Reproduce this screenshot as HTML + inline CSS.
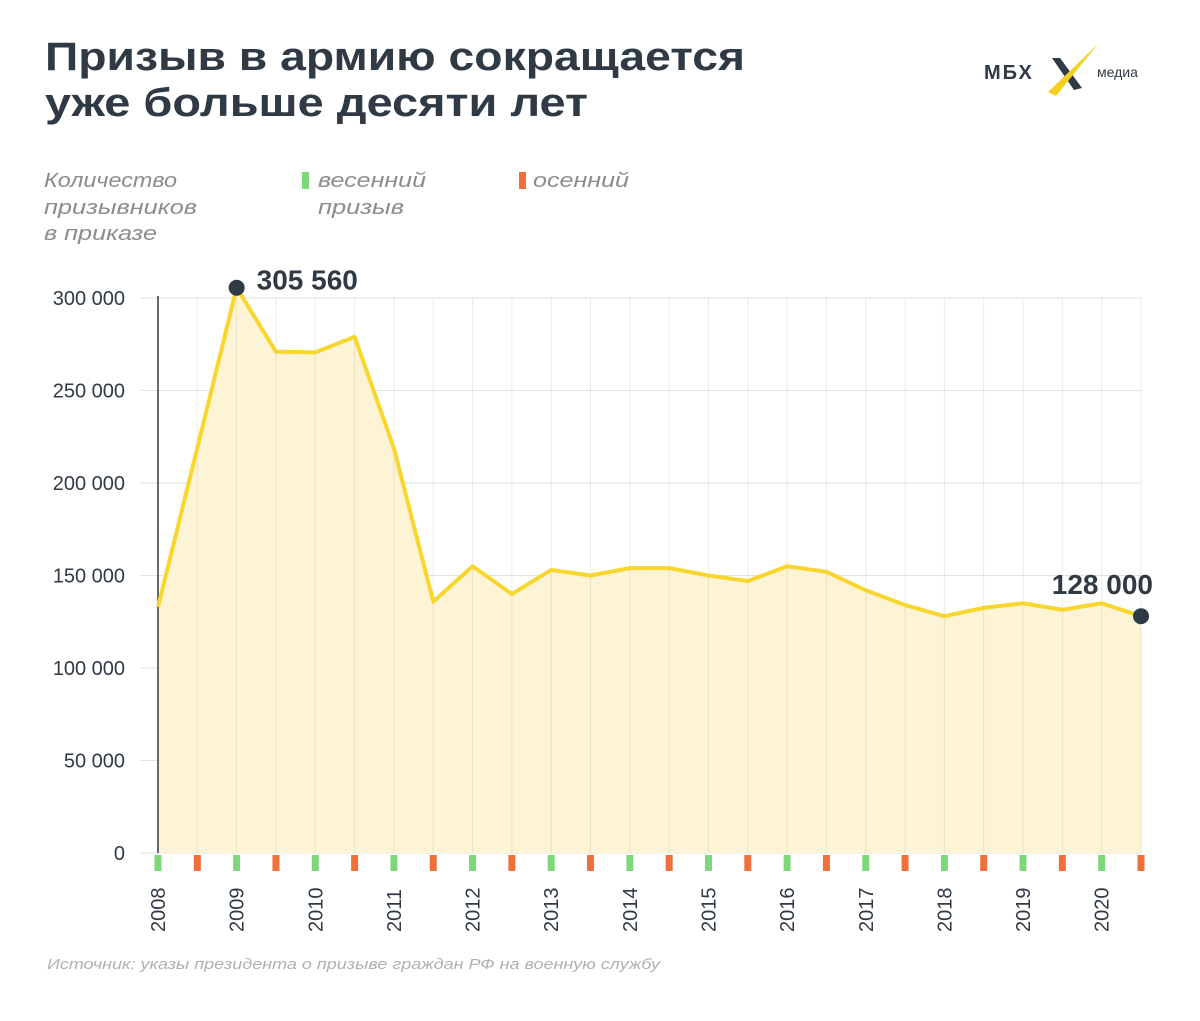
<!DOCTYPE html>
<html><head><meta charset="utf-8"><style>
body{margin:0;background:#fff;width:1200px;height:1021px;overflow:hidden;font-family:"Liberation Sans",sans-serif}
</style></head><body>
<svg width="1200" height="1021" style="position:absolute;left:0;top:0">
<text x="45" y="70" font-size="40" font-weight="bold" fill="#2f3a45" textLength="700" lengthAdjust="spacingAndGlyphs">Призыв в армию сокращается</text>
<text x="45" y="116" font-size="40" font-weight="bold" fill="#2f3a45" textLength="543" lengthAdjust="spacingAndGlyphs">уже больше десяти лет</text>
<g>
<text x="984" y="79" font-size="20" font-weight="bold" fill="#2f3a45" letter-spacing="2">МБХ</text>
<polygon points="1052,58 1060,58 1082,88 1074,90" fill="#2f3a45"/>
<polygon points="1048,92 1098,44 1056,96" fill="#f5d020"/>
<text x="1097" y="77" font-size="14" fill="#2f3a45">медиа</text>
</g>
<g font-style="italic" font-size="20" fill="#8c8c8c">
<text x="44" y="187" textLength="133" lengthAdjust="spacingAndGlyphs">Количество</text>
<text x="44" y="214" textLength="153" lengthAdjust="spacingAndGlyphs">призывников</text>
<text x="44" y="240" textLength="113" lengthAdjust="spacingAndGlyphs">в приказе</text>
<g><rect x="302" y="172" width="7" height="17" fill="#7ed87a"/><text x="318" y="187" textLength="108" lengthAdjust="spacingAndGlyphs">весенний</text><text x="318" y="214" textLength="86" lengthAdjust="spacingAndGlyphs">призыв</text></g>
<g><rect x="519" y="172" width="7" height="17" fill="#f0703a"/><text x="533" y="187" textLength="96" lengthAdjust="spacingAndGlyphs">осенний</text></g>
</g>
<g id="plot"></g>
<text x="47" y="969" font-size="15" font-style="italic" fill="#b0b0b0" textLength="613" lengthAdjust="spacingAndGlyphs">Источник: указы президента о призыве граждан РФ на военную службу</text>
</svg>
<script>
const years=["2008","2009","2010","2011","2012","2013","2014","2015","2016","2017","2018","2019","2020"];
const values=[133000,219000,305560,271000,270600,279000,218800,135850,155000,140000,153000,150000,154000,154000,150000,147000,155000,152000,142000,134000,128000,132500,135000,131500,135000,128000];
const yTicks=[0,50000,100000,150000,200000,250000,300000];
const tickLabels=["0","50 000","100 000","150 000","200 000","250 000","300 000"];
const ns="http://www.w3.org/2000/svg",g=document.getElementById("plot");
const x0=158,x1=1141,yb=853,yt=298;
const X=i=>x0+i*(x1-x0)/(values.length-1);
const Y=v=>yb-v/300000*(yb-yt);
function mk(t,a,p){const e=document.createElementNS(ns,t);for(const k in a)e.setAttribute(k,a[k]);(p||g).appendChild(e);return e;}
yTicks.forEach((v,i)=>{
 const l=mk("line",{x1:140,x2:1141,y1:Y(v),y2:Y(v),stroke:"#e2e2e2"});
 
 
 const t=mk("text",{x:125,y:Y(v)+7,"text-anchor":"end","font-size":20,fill:"#2f3a45"});
 t.textContent=tickLabels[i];
 
 
});
let d="M"+X(0)+","+yb;values.forEach((v,i)=>d+=" L"+X(i)+","+Y(v));d+=" L"+X(values.length-1)+","+yb+"Z";
const area=mk("path",{d:d,fill:"#fdf4d6"});


values.forEach((v,i)=>{
 const l=mk("line",{x1:X(i),x2:X(i),y1:298,y2:yb,stroke:"rgba(0,0,0,0.08)"});
 
 
 const r=mk("rect",{x:X(i)-3.5,y:855,width:7,height:16,fill:i%2?"#f0703a":"#7ed87a"});
 
 
});
const ax=mk("line",{x1:x0,x2:x0,y1:296,y2:yb,stroke:"#2f3a45","stroke-width":1.5});


const line=mk("polyline",{points:values.map((v,i)=>X(i)+","+Y(v)).join(" "),fill:"none",stroke:"#f9d62e","stroke-width":4,"stroke-linejoin":"round"});


years.forEach((y,k)=>{
 const xx=X(k*2);
 const t=mk("text",{x:0,y:0,transform:`translate(${xx+7},${932}) rotate(-90)`,"font-size":20,fill:"#2f3a45"});
 t.textContent=y;
 
 
});
let mi=values.indexOf(Math.max(...values)),li=values.length-1;
[[mi,X(mi)+20,Y(values[mi])+2,"start"],[li,X(li)+12,Y(values[li])-22,"end"]].forEach(([i,tx,ty,an])=>{
 const c=mk("circle",{cx:X(i),cy:Y(values[i]),r:8,fill:"#2f3a45"});
 
 
 const t=mk("text",{x:tx,y:ty,"font-size":28,"font-weight":"bold",fill:"#2f3a45","text-anchor":an});
 t.textContent=values[i].toLocaleString("ru-RU").replace(/\s/g," ");
 
 
});
</script>
</body></html>
